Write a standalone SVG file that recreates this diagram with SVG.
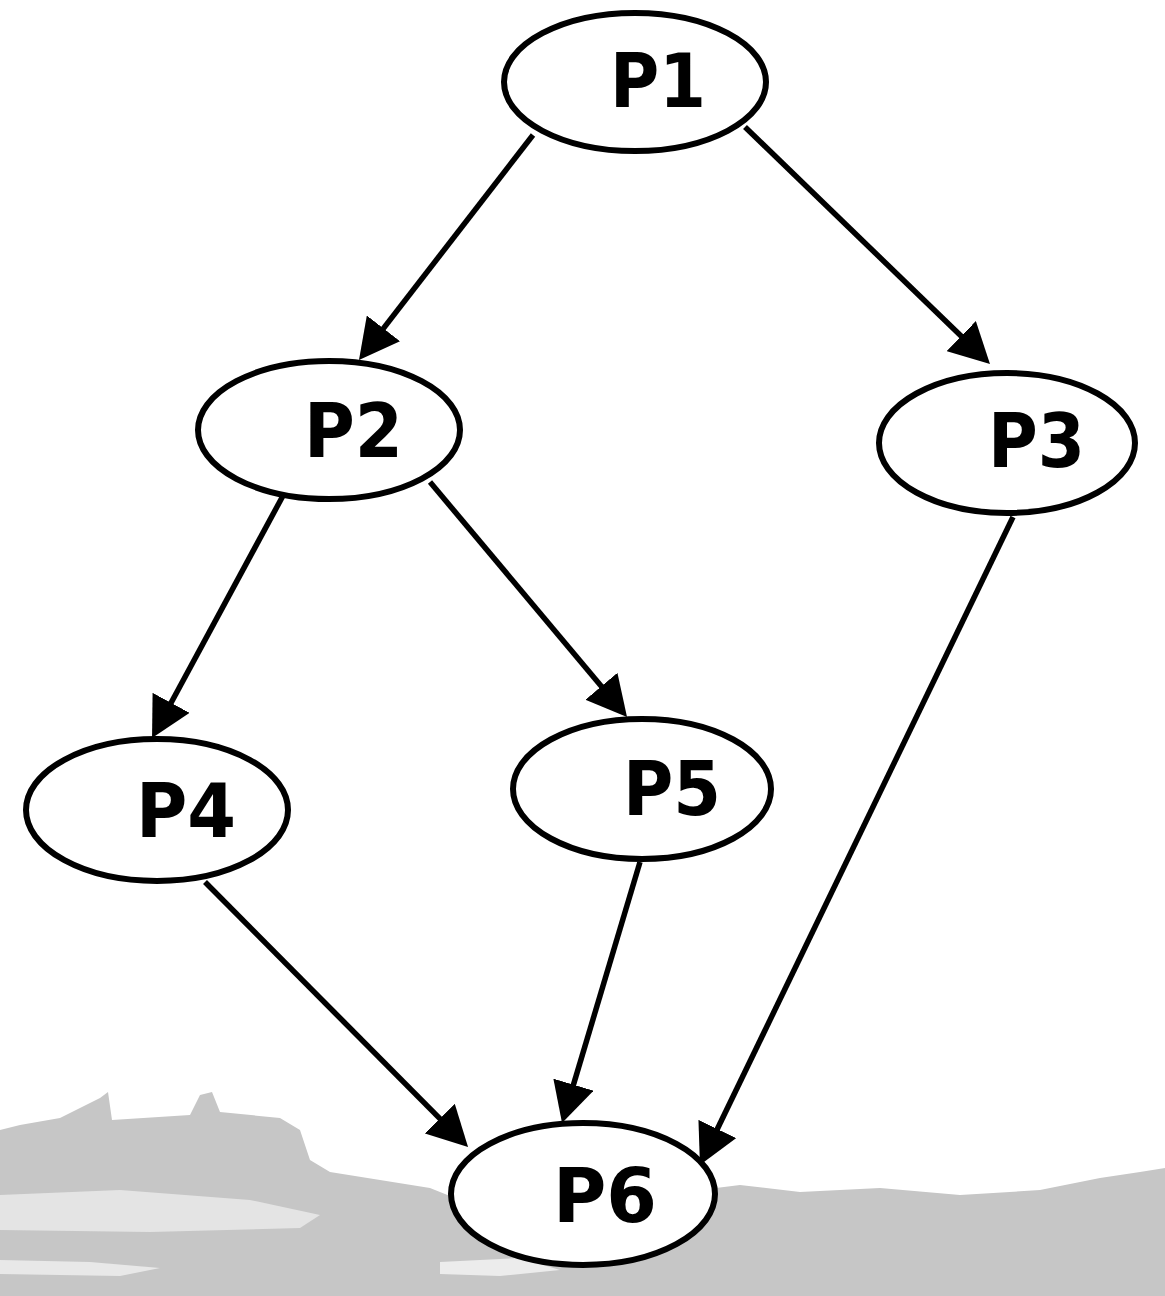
<svg xmlns="http://www.w3.org/2000/svg" width="1165" height="1296" viewBox="0 0 1165 1296">
<style>
.node ellipse{fill:#fff;stroke:#000;stroke-width:6}
.node text{font-family:"DejaVu Sans","Liberation Sans",sans-serif;font-weight:bold;font-size:75px;fill:#000}
.edge{stroke:#000;stroke-width:5.5;fill:none;marker-end:url(#arr)}
.bg{fill:#c6c6c6}
</style>
<defs>
<marker id="arr" markerUnits="userSpaceOnUse" markerWidth="40" markerHeight="42" viewBox="0 0 40 42" refX="30" refY="21" orient="auto">
<path d="M0,0 L40,21 L0,42 z" fill="#000"/>
</marker>
</defs>
<rect width="1165" height="1296" fill="#fff"/>
<g id="background">
<path class="bg" d="M0,1130 L20,1125 L60,1118 L100,1098 L108,1092 L112,1120 L190,1115 L200,1095 L212,1092 L220,1112 L280,1118 L300,1130 L310,1160 L330,1172 L380,1180 L430,1188 L460,1200 L600,1205 L700,1190 L740,1185 L800,1192 L880,1188 L960,1195 L1040,1190 L1100,1178 L1140,1172 L1165,1168 L1165,1296 L0,1296 Z"/>
<path fill="#e4e4e4" d="M0,1195 L120,1190 L250,1200 L320,1215 L300,1228 L150,1232 L0,1230 Z"/>
<path fill="#e8e8e8" d="M0,1260 L90,1262 L160,1268 L120,1276 L0,1274 Z"/>
<path fill="#ececec" d="M440,1262 L520,1258 L560,1270 L500,1276 L440,1274 Z"/>
</g>
<g id="connectors">
<line class="edge" x1="533" y1="135" x2="365.1" y2="352.1"/>
<line class="edge" x1="745" y1="127" x2="982.8" y2="357"/>
<line class="edge" x1="285" y1="492" x2="156.8" y2="729.2"/>
<line class="edge" x1="430" y1="482" x2="620.6" y2="709.3"/>
<line class="edge" x1="1013" y1="517" x2="704.3" y2="1156"/>
<line class="edge" x1="205" y1="882" x2="461" y2="1139.9"/>
<line class="edge" x1="640" y1="862" x2="564.9" y2="1113.4"/>
</g>
<g id="P1" class="node"><ellipse cx="635" cy="82" rx="131" ry="69"/><text x="610" y="107" textLength="96" lengthAdjust="spacingAndGlyphs">P1</text></g>
<g id="P2" class="node"><ellipse cx="329" cy="430" rx="131" ry="69"/><text x="304" y="457" textLength="99" lengthAdjust="spacingAndGlyphs">P2</text></g>
<g id="P3" class="node"><ellipse cx="1007" cy="443" rx="128" ry="70"/><text x="988" y="467" textLength="97" lengthAdjust="spacingAndGlyphs">P3</text></g>
<g id="P4" class="node"><ellipse cx="157" cy="810" rx="131" ry="71"/><text x="136" y="837" textLength="100" lengthAdjust="spacingAndGlyphs">P4</text></g>
<g id="P5" class="node"><ellipse cx="642" cy="789" rx="129" ry="70"/><text x="623" y="815" textLength="98" lengthAdjust="spacingAndGlyphs">P5</text></g>
<g id="P6" class="node"><ellipse cx="583" cy="1194" rx="132" ry="71"/><text x="553" y="1222" textLength="104" lengthAdjust="spacingAndGlyphs">P6</text></g>
</svg>
